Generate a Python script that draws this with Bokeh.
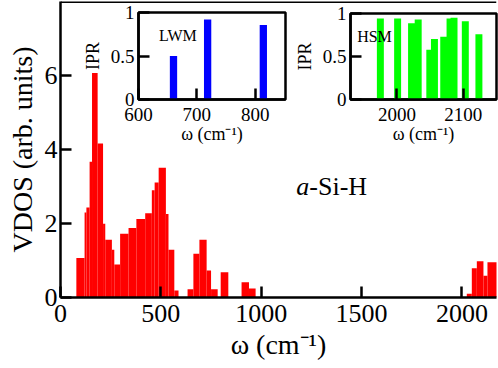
from bokeh.plotting import figure
from bokeh.models import FixedTicker, Span, Label
from bokeh.layouts import column
from bokeh.embed import file_html
from bokeh.resources import INLINE

# ---- main VDOS histogram (bin left edge, bin right edge, height) ----
vdos_left = [79, 120, 129, 145, 157, 185, 212, 223, 256, 268,
             297, 339, 378, 422, 455, 469, 489, 525, 538, 567,
             633, 662, 692, 728, 750, 798, 902, 939,
             2024, 2049, 2074, 2107, 2127]
vdos_right = [120, 129, 145, 157, 185, 212, 223, 256, 268, 297,
              339, 378, 422, 455, 469, 489, 525, 538, 567, 588,
              662, 692, 728, 750, 783, 836, 939, 972,
              2049, 2074, 2107, 2127, 2175]
vdos = [1.07, 2.30, 2.43, 3.67, 6.07, 4.16, 1.99, 1.56, 1.29, 0.89,
        1.72, 1.88, 2.12, 2.28, 2.90, 3.11, 3.51, 2.26, 1.29, 0.19,
        0.22, 1.18, 1.56, 0.73, 0.22, 0.68, 0.41, 0.24,
        0.10, 0.79, 0.98, 0.59, 0.95]
main_xticks = [0, 500, 1000, 1500, 2000]
main_yticks = [0, 2, 4, 6]

# ---- inset: low wavenumber modes ----
lwm_freq = [660, 718.5, 814]
lwm_ipr = [0.50, 0.92, 0.855]
lwm_xticks = [600, 700, 800]

# ---- inset: high stretching modes ----
hsm_freq = [1975, 2001, 2022, 2032, 2049.5, 2056.5, 2070.5, 2080, 2086, 2103, 2123.5]
hsm_ipr = [0.943, 0.943, 0.886, 0.93, 0.578, 0.703, 0.73, 0.943, 0.95, 0.91, 0.76]
hsm_xticks = [2000, 2100]
ipr_yticks = [0, 0.5, 1]

FONT = "Liberation Serif"


def style_axis(ax, ticks, label_size, tick_len, lw, standoff):
    ax.ticker = FixedTicker(ticks=ticks)
    ax.major_label_text_font = FONT
    ax.major_label_text_font_size = label_size
    ax.major_label_text_color = "black"
    ax.axis_label_text_font = FONT
    ax.axis_label_text_font_style = "normal"
    ax.axis_label_text_color = "black"
    ax.major_tick_in = tick_len
    ax.major_tick_out = 0
    ax.minor_tick_in = 0
    ax.minor_tick_out = 0
    ax.axis_line_width = lw
    ax.major_tick_line_width = lw
    ax.axis_line_color = "black"
    ax.major_tick_line_color = "black"
    ax.major_label_standoff = standoff


# ================= main figure =================
p = figure(width=498, height=368, x_range=(0, 2172), y_range=(0, 8),
           output_backend="svg", toolbar_location=None,
           min_border_left=60, min_border_right=0, min_border_top=1, min_border_bottom=71)
p.outline_line_color = None
p.grid.visible = False
p.border_fill_color = "white"
p.background_fill_color = "white"

p.quad(left=vdos_left, right=vdos_right, bottom=0, top=vdos,
       fill_color="#ff0000", line_color=None)

style_axis(p.xaxis[0], main_xticks, "26px", 11, 2.5, 7)
style_axis(p.yaxis[0], main_yticks, "26px", 11, 2.5, 3)
p.xaxis[0].axis_label = "ω (cm⁻¹)"
p.yaxis[0].axis_label = "VDOS (arb. units)"
p.xaxis[0].axis_label_text_font_size = "28px"
p.yaxis[0].axis_label_text_font_size = "28px"
p.xaxis[0].axis_label_standoff = 4
p.yaxis[0].axis_label_standoff = 4

p.add_layout(Span(location=8, dimension="width", line_color="black", line_width=3))

p.add_layout(Label(x=1175, y=3.0, text="a", text_font=FONT, text_font_style="italic",
                   text_font_size="26px", text_baseline="alphabetic", text_color="black"))
p.add_layout(Label(x=1175, y=3.0, x_offset=13, text="-Si-H", text_font=FONT,
                   text_font_size="26px", text_baseline="alphabetic", text_color="black"))


def make_inset(x_range, ticks, freq, ipr, width_units, color, name, name_x, left,
               fig_w, min_left, min_right, min_top):
    f = figure(width=fig_w, height=146, x_range=x_range, y_range=(0, 1),
               output_backend="svg", toolbar_location=None,
               min_border_left=min_left, min_border_right=min_right,
               min_border_top=min_top, min_border_bottom=46,
               styles={"position": "absolute", "left": f"{left}px", "top": "0px"})
    f.grid.visible = False
    f.border_fill_color = None
    f.background_fill_color = "white"
    f.outline_line_color = "black"
    f.outline_line_width = 2.5
    f.vbar(x=freq, width=width_units, top=ipr, bottom=0, fill_color=color, line_color=None)
    style_axis(f.xaxis[0], ticks, "19px", 11, 2.5, 8)
    style_axis(f.yaxis[0], ipr_yticks, "19px", 11, 2.5, 4)
    f.yaxis[0].major_label_overrides = {0: "0", 0.5: "0.5", 1: "1"}
    f.xaxis[0].axis_label = "ω (cm⁻¹)"
    f.yaxis[0].axis_label = "IPR"
    f.xaxis[0].axis_label_text_font_size = "18px"
    f.yaxis[0].axis_label_text_font_size = "18px"
    f.xaxis[0].axis_label_standoff = 0
    f.yaxis[0].axis_label_standoff = 5
    f.add_layout(Label(x=name_x, y=0.73, text=name, text_font=FONT, text_font_size="16px",
                       text_baseline="alphabetic", text_color="black"))
    return f


lwm = make_inset((600, 852), lwm_xticks, lwm_freq, lwm_ipr, 12.5, "#0000ff", "LWM", 635,
                 78, 209, 54, 2, 12)
hsm = make_inset((1930, 2150), hsm_xticks, hsm_freq, hsm_ipr, 10.5, "#00ff00", "HSM", 1940,
                 290, 208, 55, 0, 13)

layout = column(p, lwm, hsm)

with open("out.html", "w") as fh:
    fh.write(file_html(layout, INLINE))
